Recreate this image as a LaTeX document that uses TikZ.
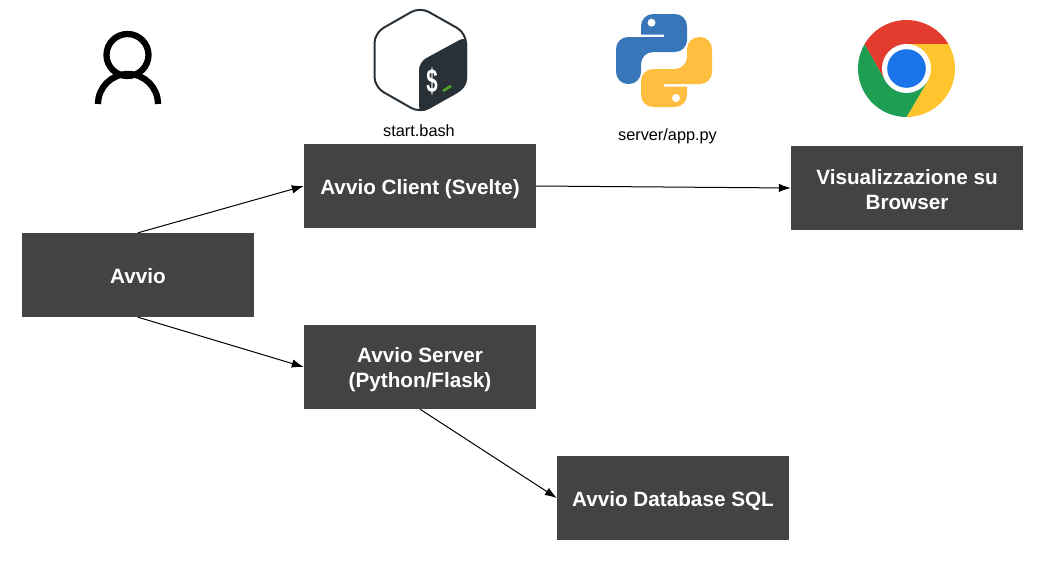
\documentclass[tikz,border=0pt]{standalone}
\usepackage{fontspec}
\setmainfont{Liberation Sans}
\usetikzlibrary{arrows.meta}
\definecolor{boxgray}{HTML}{434343}
\definecolor{bashdark}{HTML}{293138}
\definecolor{bashgreen}{HTML}{4DA925}
\definecolor{pyblue}{HTML}{3776B8}
\definecolor{pyyellow}{HTML}{FFBE40}
\definecolor{chromered}{HTML}{E33B2E}
\definecolor{chromeyellow}{HTML}{FFC42E}
\definecolor{chromegreen}{HTML}{1E9E52}
\definecolor{chromeblue}{HTML}{1A73E8}
\newcommand{\topstrut}{\rule{0pt}{21pt}}
\newcommand{\botstrut}{\rule[-4pt]{0pt}{4pt}}
\tikzset{
    stepbox/.style={draw=none, fill=boxgray, text=white, minimum width=232pt, minimum height=84pt, inner sep=0pt, align=center, font=\fontsize{20.7}{25}\selectfont\bfseries},
    iconlabel/.style={text=black, inner sep=0pt, font=\fontsize{16.3}{19}\selectfont},
    flow/.style={-{Latex[length=12pt,width=8.5pt]}, line width=1pt, black},
}
\begin{document}
\begin{tikzpicture}[x=1pt, y=-1pt]
    \useasboundingbox (0,0) rectangle (1047,581);
    % boxes
    \node[stepbox] (avvio) at (138,275) {\topstrut Avvio\botstrut};
    \node[stepbox] (client) at (420,186) {\topstrut Avvio Client (Svelte)\botstrut};
    \node[stepbox] (browser) at (907,188) {\topstrut Visualizzazione su\\Browser\botstrut};
    \node[stepbox] (server) at (420,367) {\topstrut Avvio Server\\(Python/Flask)\botstrut};
    \node[stepbox] (database) at (673,498) {\topstrut Avvio Database SQL\botstrut};
    % connectors
    \draw[flow] (avvio.north) -- (client.west);
    \draw[flow] (avvio.south) -- (server.west);
    \draw[flow] (client.east) -- (browser.west);
    \draw[flow] (server.south) -- (database.west);
    % user
    \draw[line width=6.3pt] (127.5,55) circle (21);
    \draw[line width=6.3pt] (98,104) arc[start angle=180, end angle=360, radius=30];
    % bash
    \draw[bashdark, fill=white, line width=2pt, rounded corners=10pt] (420,7) -- (466,33) -- (466,87) -- (420,113) -- (374.5,87) -- (374.5,33) -- cycle;
    \fill[bashdark, rounded corners=8pt] (467,36) -- (467,87) -- (419,114) -- (419,62) -- cycle;
    \node[text=white, inner sep=0pt, transform shape, xscale=0.62, font=\fontsize{33}{36}\selectfont\bfseries] (dollar) at (432,81) {\$};
    \draw[bashgreen, line width=2.5pt] (443,91) -- (451,86);
    \node[iconlabel] (bashlabel) at (419,131) {start.bash};
    % python
    \fill[pyblue] (664,34.5) [sharp corners] -- (641,34.5) [rounded corners=12pt] -- (641,14) -- (687,14) -- (687,52) -- (641,52) -- (641,84) -- (616,84) -- (616,37) [sharp corners] -- (664,37) -- cycle;
    \fill[pyyellow, rotate around={180:(664,60.5)}] (664,34.5) [sharp corners] -- (641,34.5) [rounded corners=12pt] -- (641,14) -- (687,14) -- (687,52) -- (641,52) -- (641,84) -- (616,84) -- (616,37) [sharp corners] -- (664,37) -- cycle;
    \fill[white] (651.5,22.7) circle (4) (676,98) circle (4);
    \node[iconlabel] (pylabel) at (667.5,136) {server/app.py};
    % chrome
    \begin{scope}[shift={(906.5,68.5)}, y=1pt]
        \fill[chromered] (90:24.5) -- (30:48.5) arc[start angle=30, end angle=150, radius=48.5] -- (210:24.5) -- (0,0) -- cycle;
        \fill[chromeyellow] (330:24.5) -- (270:48.5) arc[start angle=270, end angle=390, radius=48.5] -- (90:24.5) -- (0,0) -- cycle;
        \fill[chromegreen] (210:24.5) -- (150:48.5) arc[start angle=150, end angle=270, radius=48.5] -- (330:24.5) -- (0,0) -- cycle;
        \fill[white] (0,0) circle (24.5);
        \fill[chromeblue] (0,0) circle (19.3);
    \end{scope}
\end{tikzpicture}
\end{document}
